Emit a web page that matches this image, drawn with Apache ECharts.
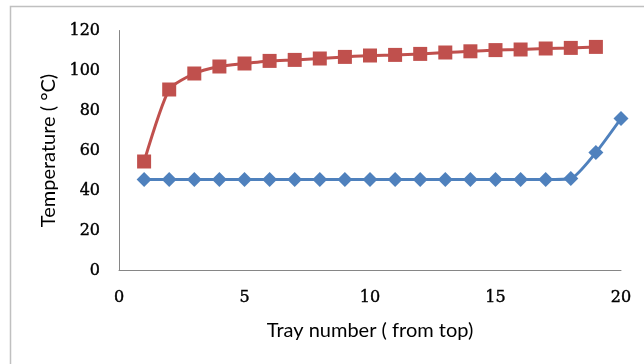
<!DOCTYPE html>
<html>
<head>
<meta charset="utf-8">
<script src="https://cdn.jsdelivr.net/npm/echarts@6/dist/echarts.min.js"></script>
<style>
  html, body { margin: 0; padding: 0; background: #fff; }
  #chart { width: 644px; height: 364px; }
</style>
</head>
<body>
<div id="chart"></div>
<script>
// tray numbers and temperatures
const trays = [1, 2, 3, 4, 5, 6, 7, 8, 9, 10, 11, 12, 13, 14, 15, 16, 17, 18, 19, 20]
const blueTemp = [45.5, 45.5, 45.5, 45.5, 45.5, 45.5, 45.5, 45.5, 45.5, 45.5, 45.5, 45.5, 45.5, 45.5, 45.5, 45.5, 45.5, 46, 59, 76]
const redTrays = [1, 2, 3, 4, 5, 6, 7, 8, 9, 10, 11, 12, 13, 14, 15, 16, 17, 18, 19]
const redTemp = [54.5, 90.5, 98.5, 102, 103.5, 104.8, 105.3, 106, 106.8, 107.5, 107.8, 108.3, 109, 109.6, 110.2, 110.5, 111, 111.3, 111.8]

const pairs = (xs, ys) => xs.map((x, i) => [x, ys[i]])

const chart = echarts.init(document.getElementById('chart'))

// cambria-ish numbers look a bit heavier in the original, thin stroke helps
const tickFont = { fontFamily: 'DejaVu Serif', fontSize: 16, color: '#000', textBorderColor: '#000', textBorderWidth: 0.4 }
const titleFont = { fontFamily: 'Lato', fontSize: 20, color: '#000' }

const option = {
    animation: false,
    backgroundColor: '#fff',
    graphic: [{
        type: 'rect',
        shape: { x: 10.5, y: 6.5, width: 700, height: 400 },
        style: { fill: 'none', stroke: '#c0c0c0', lineWidth: 1.5 },
        silent: true
    }],
    grid: { left: 119, right: 23, top: 30.5, bottom: 93.5 },
    xAxis: {
        type: 'value',
        min: 0,
        max: 20,
        interval: 5,
        name: 'Tray number ( from top)',
        nameLocation: 'middle',
        nameGap: 50,
        nameTextStyle: titleFont,
        axisLine: { show: true, onZero: false, lineStyle: { color: '#868686', width: 1 } },
        axisTick: { show: false },
        splitLine: { show: false },
        axisLabel: Object.assign({ margin: 19 }, tickFont)
    },
    yAxis: {
        type: 'value',
        min: 0,
        max: 120,
        interval: 20,
        name: 'Temperature ( °C)',
        nameLocation: 'middle',
        nameGap: 56,
        nameRotate: 90,
        nameTextStyle: titleFont,
        axisLine: { show: true, lineStyle: { color: '#868686', width: 1 } },
        axisTick: { show: false },
        splitLine: { show: false },
        axisLabel: Object.assign({ margin: 19 }, tickFont)
    },
    series: [{
        name: 'blue',
        type: 'line',
        smooth: 0.2,
        data: pairs(trays, blueTemp),
        symbol: 'diamond',
        symbolSize: 15,
        lineStyle: { color: '#4F81BD', width: 3 },
        itemStyle: { color: '#4F81BD' }
    }, {
        name: 'red',
        type: 'line',
        smooth: 0.2,
        data: pairs(redTrays, redTemp),
        symbol: 'rect',
        symbolSize: 14,
        lineStyle: { color: '#C0504D', width: 3 },
        itemStyle: { color: '#C0504D' }
    }]
}

chart.setOption(option)
</script>
</body>
</html>
